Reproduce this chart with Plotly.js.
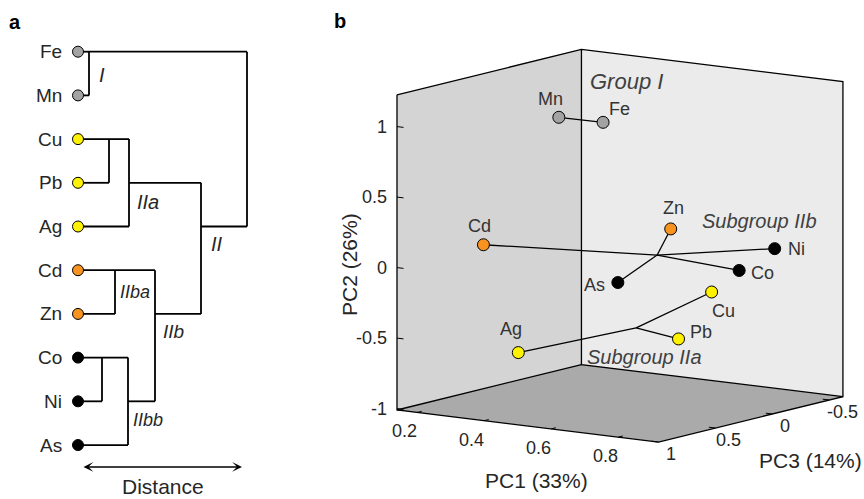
<!DOCTYPE html>
<html>
<head>
<meta charset="utf-8">
<script src="https://cdn.plot.ly/plotly-3.0.1.min.js"></script>
<style>html,body{margin:0;padding:0;background:#fff;}#chart{width:864px;height:499px;}</style>
</head>
<body>
<div id="chart"></div>
<script>
// ---------------- DATA ----------------
// Panel a: dendrogram
const leaves = ['Fe','Mn','Cu','Pb','Ag','Cd','Zn','Co','Ni','As'];
const leafGroup = ['I','I','IIa','IIa','IIa','IIba','IIba','IIbb','IIbb','IIbb'];
const nodeNames = ['I','CuPb','IIa','CdZn','CoNi','IIbb','IIb','II','root'];
const nodeLeft  = ['Fe','Cu','CuPb','Cd','Co','CoNi','CdZn','IIa','I'];
const nodeRight = ['Mn','Pb','Ag','Zn','Ni','As','IIbb','IIb','II'];
const nodeDistance = [1.1, 3.1, 5.1, 3.7, 2.4, 5.0, 7.7, 12.3, 16.9];
const nodeAnchorLeaf = ['Fe','Cu','Pb','Cd','Co','Ni','Zn','Ag','Fe'];
const clusterLabels = ['I','IIa','II','IIba','IIb','IIbb'];

// Panel b: PCA (PC1, PC2, PC3 scores)
const pcaElements = ['Mn','Fe','Cd','Zn','Ni','Co','As','Cu','Pb','Ag'];
const pc1 = [0.385, 0.483, 0.262, 0.515, 0.893, 0.855, 0.629, 0.671, 0.776, 0.434];
const pc2 = [0.998, 0.971, 0.118, 0.125, 0.135, 0.009, -0.063, -0.257, -0.440, -0.557];
const pc3 = [0.30, 0.20, 0.60, -0.30, -0.10, 0.10, 0.50, -0.20, 0.40, 0.80];
const pcaGroup = ['I','I','IIb','IIb','IIb','IIb','IIb','IIa','IIa','IIa'];
const groupNames = ['Group I','Subgroup IIb','Subgroup IIa'];
const pc1Ticks = [0.2, 0.4, 0.6, 0.8];
const pc1TickText = ['0.2','0.4','0.6','0.8'];
const pc2Ticks = [-1, -0.5, 0, 0.5, 1];
const pc2TickText = ['-1','-0.5','0','0.5','1'];
const pc3Ticks = [-0.5, 0, 0.5, 1];
const pc3TickText = ['-0.5','0','0.5','1'];
const pc1Range = [0.14, 0.92];
const pc2Range = [-1.01, 1.225];
const pc3Range = [-0.62, 1.0];
const axisTitles = ['PC1 (33%)','PC2 (26%)','PC3 (14%)'];

// ---------------- STYLE ----------------
const FONT = 'Liberation Sans, Arial, Helvetica, sans-serif';
const TXT = '#262626';
const groupColor = {I:'#a3a3a3', IIa:'#fff200', IIba:'#f7931e', IIbb:'#000000'};
// label offset from its point, in px (right, down)
const labelOffset = {Mn:[-8,-18], Fe:[16,-13], Cd:[-4,-19], Zn:[3,-21], Ni:[22,0],
  Co:[23,3], As:[-23,2], Cu:[12,19], Pb:[22,-7], Ag:[-7,-24]};
const wallLeft = '#d4d4d4', wallBack = '#ebebeb', wallFloor = '#aaaaaa';
// view of the 3D box (azimuth / elevation of an orthographic camera)
const AZ = 35.2*Math.PI/180, EL = 10*Math.PI/180;
const TICKLEN = 0.025;

// ---------------- PANEL A ----------------
const rowOf = {}; leaves.forEach((l,i)=>rowOf[l]=i);
const nodeDist = {}; leaves.forEach(l=>nodeDist[l]=0);
const nodeRow = {}; leaves.forEach((l,i)=>nodeRow[l]=i);
nodeNames.forEach((n,i)=>{ nodeDist[n]=nodeDistance[i]; nodeRow[n]=rowOf[nodeAnchorLeaf[i]]; });
const dx=[], dy=[];
nodeNames.forEach((n,i)=>{
  const h = nodeDistance[i];
  [nodeLeft[i], nodeRight[i]].forEach(c=>{
    dx.push(nodeDist[c], h, null); dy.push(nodeRow[c], nodeRow[c], null);
  });
  dx.push(h, h, null); dy.push(nodeRow[nodeLeft[i]], nodeRow[nodeRight[i]], null);
});
const leafColorOf = {}; leaves.forEach((l,i)=>leafColorOf[l]=groupColor[leafGroup[i]]);

const traces = [];
traces.push({type:'scatter', x:dx, y:dy, mode:'lines', line:{color:'#000', width:1.8},
  xaxis:'x', yaxis:'y', hoverinfo:'skip', showlegend:false});
traces.push({type:'scatter', x:leaves.map(()=>0), y:leaves.map((l,i)=>i), mode:'markers',
  marker:{size:11, color:leaves.map(l=>leafColorOf[l]), line:{color:'#000', width:1}},
  xaxis:'x', yaxis:'y', hoverinfo:'skip', showlegend:false, cliponaxis:false});

const annotations = [];
const ann = (o)=>annotations.push(Object.assign({showarrow:false, xanchor:'center', yanchor:'middle'}, o));
leaves.forEach((l,i)=>ann({text:l, xref:'x', yref:'y', x:-1.45, y:i, xanchor:'right', font:{size:19, color:TXT}}));

// ---------------- PANEL B (orthographic projection of the 3D box) ----------------
const ca=Math.cos(AZ), sa=Math.sin(AZ), ce=Math.cos(EL), se=Math.sin(EL);
function P(u1,u2,u3){ // normalized box coords -> projected plane
  return [u1*ca - u3*sa, u2*ce - (u1*sa + u3*ca)*se];
}
const nrm = (v,r)=>(v-r[0])/(r[1]-r[0]);
function proj(p1,p2,p3){ return P(nrm(p1,pc1Range), nrm(p2,pc2Range), nrm(p3,pc3Range)); }
function poly(pts){ const xs=[], ys=[]; pts.forEach(p=>{ if(p===null){xs.push(null);ys.push(null);} else {const q=P(p[0],p[1],p[2]); xs.push(q[0]); ys.push(q[1]);} }); return [xs,ys]; }

// walls
[[ [[0,0,0],[0,1,0],[0,1,1],[0,0,1],[0,0,0]], wallLeft ],
 [ [[0,0,0],[1,0,0],[1,1,0],[0,1,0],[0,0,0]], wallBack ],
 [ [[0,0,0],[1,0,0],[1,0,1],[0,0,1],[0,0,0]], wallFloor ]].forEach(w=>{
  const [xs,ys]=poly(w[0]);
  traces.push({type:'scatter', x:xs, y:ys, mode:'lines', fill:'toself', fillcolor:w[1],
    line:{width:0, color:w[1]}, xaxis:'x2', yaxis:'y2', hoverinfo:'skip', showlegend:false});
});
// frame (u1=PC1, u2=PC2, u3=PC3)
{
  const [xs,ys]=poly([[0,1,1],[0,1,0],[1,1,0],[1,0,0],[1,0,1],[0,0,1],[0,1,1],null,
    [0,1,0],[0,0,0],[1,0,0],null,[0,0,0],[0,0,1]]);
  traces.push({type:'scatter', x:xs, y:ys, mode:'lines', line:{color:'#000', width:1.3},
    xaxis:'x2', yaxis:'y2', hoverinfo:'skip', showlegend:false});
}
// ticks
{
  const pts=[];
  pc1Ticks.forEach(t=>{ const u=nrm(t,pc1Range); pts.push([u,0,1],[u,0,1-TICKLEN],null); });
  pc3Ticks.forEach(t=>{ const u=nrm(t,pc3Range); pts.push([1,0,u],[1-TICKLEN,0,u],null); });
  pc2Ticks.forEach(t=>{ const u=nrm(t,pc2Range); pts.push([0,u,1],[TICKLEN,u,1],null); });
  const [xs,ys]=poly(pts);
  traces.push({type:'scatter', x:xs, y:ys, mode:'lines', line:{color:'#000', width:1},
    xaxis:'x2', yaxis:'y2', hoverinfo:'skip', showlegend:false});
}
// tick labels
pc1Ticks.forEach((t,i)=>{ const q=P(nrm(t,pc1Range),0,1);
  ann({text:pc1TickText[i], xref:'x2', yref:'y2', x:q[0], y:q[1], xshift:-13, yshift:-19, font:{size:18, color:TXT}}); });
pc3Ticks.forEach((t,i)=>{ const q=P(1,0,nrm(t,pc3Range));
  ann({text:pc3TickText[i], xref:'x2', yref:'y2', x:q[0], y:q[1], xshift:13, yshift:-12, font:{size:18, color:TXT}}); });
pc2Ticks.forEach((t,i)=>{ const q=P(0,nrm(t,pc2Range),1);
  ann({text:pc2TickText[i], xref:'x2', yref:'y2', x:q[0], y:q[1], xanchor:'right', xshift:-8, font:{size:18, color:TXT}}); });

// lines from each element to its group centroid
{
  const xs=[], ys=[];
  ['I','IIa','IIb'].forEach(g=>{
    const idx = pcaGroup.map((v,i)=>v===g?i:-1).filter(i=>i>=0);
    const m = a=>idx.reduce((s,i)=>s+a[i],0)/idx.length;
    const c = proj(m(pc1), m(pc2), m(pc3));
    idx.forEach(i=>{ const q=proj(pc1[i],pc2[i],pc3[i]); xs.push(q[0], c[0], null); ys.push(q[1], c[1], null); });
  });
  traces.push({type:'scatter', x:xs, y:ys, mode:'lines', line:{color:'#000', width:1.3},
    xaxis:'x2', yaxis:'y2', hoverinfo:'skip', showlegend:false});
}
// points + labels
{
  const q = pcaElements.map((e,i)=>proj(pc1[i],pc2[i],pc3[i]));
  traces.push({type:'scatter', x:q.map(v=>v[0]), y:q.map(v=>v[1]), mode:'markers',
    marker:{size:12, color:pcaElements.map(e=>leafColorOf[e]), line:{color:'#000', width:1}},
    xaxis:'x2', yaxis:'y2', hoverinfo:'skip', showlegend:false, cliponaxis:false});
  pcaElements.forEach((e,i)=>ann({text:e, xref:'x2', yref:'y2', x:q[i][0], y:q[i][1],
    xshift:labelOffset[e][0], yshift:-labelOffset[e][1], font:{size:18, color:'#333'}}));
}

// other texts
ann({text:'<b>a</b>', xref:'paper', yref:'paper', x:15/864, y:1-22/499, font:{size:20, color:'#000'}});
ann({text:'<b>b</b>', xref:'paper', yref:'paper', x:340/864, y:1-21/499, font:{size:20, color:'#000'}});
[[2.37,0.53,20],[7.0,3.44,20],[13.9,4.4,20],[5.7,5.49,18],[9.5,6.41,19],[7.0,8.43,18]].forEach((p,i)=>
  ann({text:'<i>'+clusterLabels[i]+'</i>', xref:'x', yref:'y', x:p[0], y:p[1], font:{size:p[2], color:TXT}}));
annotations.push({text:'', xref:'x', yref:'y', x:16.4, y:9.5, axref:'x', ayref:'y', ax:0.4, ay:9.5, showarrow:true,
  arrowhead:3, startarrowhead:3, arrowside:'end+start', arrowsize:1.1, startarrowsize:1.1, arrowwidth:1.5, arrowcolor:'#000'});
ann({text:'Distance', xref:'paper', yref:'paper', x:163/864, y:1-486/499, font:{size:21, color:TXT}});
ann({text:axisTitles[1], xref:'paper', yref:'paper', x:349/864, y:1-265/499, textangle:-90, font:{size:21, color:TXT}});
ann({text:axisTitles[0], xref:'paper', yref:'paper', x:536/864, y:1-480/499, font:{size:21, color:TXT}});
ann({text:axisTitles[2], xref:'paper', yref:'paper', x:810/864, y:1-460/499, font:{size:21, color:TXT}});
ann({text:'<i>'+groupNames[0]+'</i>', xref:'paper', yref:'paper', x:626/864, y:1-82/499, font:{size:22, color:'#404040'}});
ann({text:'<i>'+groupNames[1]+'</i>', xref:'paper', yref:'paper', x:759/864, y:1-221/499, font:{size:20, color:'#404040'}});
ann({text:'<i>'+groupNames[2]+'</i>', xref:'paper', yref:'paper', x:644/864, y:1-357/499, font:{size:20, color:'#404040'}});

const layout = {
  width:864, height:499, margin:{l:0,r:0,t:0,b:0}, paper_bgcolor:'#fff', plot_bgcolor:'rgba(0,0,0,0)',
  font:{family:FONT, color:TXT},
  xaxis:{domain:[0,0.35], range:[-7.8,22.44], visible:false, fixedrange:true},
  yaxis:{domain:[0,1], range:[10.235,-1.183], visible:false, fixedrange:true},
  xaxis2:{domain:[380/864,1], range:[-0.62953,0.88298], visible:false, fixedrange:true, anchor:'y2'},
  yaxis2:{domain:[0,1], range:[-0.42002,1.13936], visible:false, fixedrange:true, anchor:'x2'},
  annotations:annotations
};
Plotly.newPlot('chart', traces, layout, {staticPlot:true, displayModeBar:false});
</script>
</body>
</html>
